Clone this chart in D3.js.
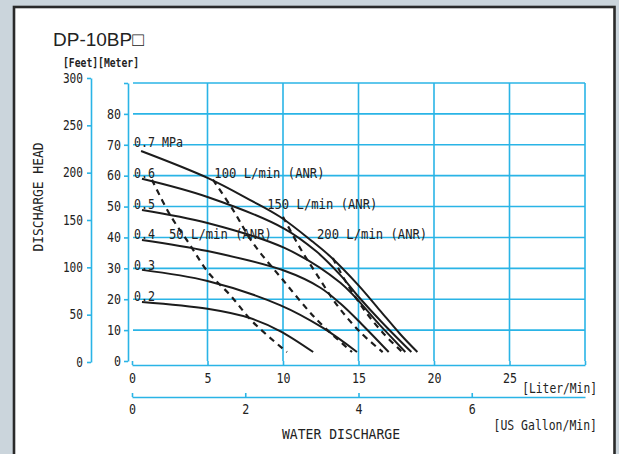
<!DOCTYPE html>
<html>
<head>
<meta charset="utf-8">
<title>DP-10BP</title>
<script src="https://d3js.org/d3.v7.min.js"></script>
<style>
  html, body { margin: 0; padding: 0; background: #cbd5dc; }
  svg { display: block; }
  .lbl { font-family: "DejaVu Sans Mono", monospace; font-size: 13.5px; fill: #222; }
  .grid line { stroke: #2ab4e6; stroke-width: 1.6; }
  .axis path, .axis line { stroke: #2ab4e6; stroke-width: 1.6; }
  .axis text { font-family: "DejaVu Sans Mono", monospace; font-size: 13.5px; fill: #222; }
  .pump { fill: none; stroke: #1c1c1c; stroke-width: 2; }
  .air { fill: none; stroke: #1c1c1c; stroke-width: 2.2; stroke-dasharray: 6,5; }
</style>
</head>
<body>
<svg id="chart" width="619" height="454"></svg>
<script>
// ---- data (flow in L/min, head in m) ----
var meterTicks = [0, 10, 20, 30, 40, 50, 60, 70, 80, 90];
var feetTicks = [0, 50, 100, 150, 200, 250, 300];
var literTicks = [0, 5, 10, 15, 20, 25, 30];
var gallonTicks = [0, 2, 4, 6];

var pressureNames = ["0.7 MPa", "0.6", "0.5", "0.4", "0.3", "0.2"];
var pressureHead = [70, 60, 50, 40, 30, 20];

var curve07 = [[0.6, 68.0], [5.0, 59.3], [7.8, 52.2], [9.8, 46.7], [12.0, 38.5], [13.1, 34.0], [15.0, 24.5], [16.4, 16.5], [17.8, 8.5], [18.9, 2.9]];
var curve06 = [[0.66, 59.0], [5.0, 53.1], [10.1, 42.8], [12.2, 35.5], [13.8, 27.8], [15.0, 20.8], [16.5, 12.8], [18.5, 2.9]];
var curve05 = [[0.66, 48.9], [5.0, 44.7], [10.1, 36.6], [13.8, 25.3], [16.4, 11.7], [18.1, 2.9]];
var curve04 = [[0.66, 39.2], [5.0, 35.6], [10.1, 29.2], [12.45, 23.8], [13.8, 18.6], [15.2, 12.0], [17.0, 2.9]];
var curve03 = [[0.66, 29.5], [5.0, 25.9], [9.8, 18.1], [12.65, 10.7], [14.9, 2.9]];
var curve02 = [[0.66, 19.1], [5.0, 16.9], [7.8, 13.9], [9.8, 9.7], [12.0, 2.9]];
var pumpCurves = [curve07, curve06, curve05, curve04, curve03, curve02];

var airNames = ["50 L/min (ANR)", "100 L/min (ANR)", "150 L/min (ANR)", "200 L/min (ANR)"];
var airLabelFlow = [2.45, 5.45, 8.95, 12.25];
var airLabelHead = [40, 60, 50, 40];
var air50 = [[1.32, 58.7], [2.52, 47.3], [3.84, 37.6], [5.03, 28.8], [6.49, 21.4], [8.01, 12.6], [10.26, 2.9]];
var air100 = [[5.36, 58.7], [6.69, 48.9], [8.01, 38.2], [10.0, 26.2], [12.25, 13.3], [14.57, 2.9]];
var air150 = [[10.0, 46.7], [11.13, 36.6], [12.25, 27.9], [13.58, 18.1], [15.1, 9.4], [16.6, 2.9]];
var air200 = [[13.3, 33.3], [14.24, 25.0], [15.43, 16.2], [16.75, 8.4], [17.9, 2.9]];
var airCurves = [air50, air100, air150, air200];

var gallonMax = 8; // the gallon scale as printed: 8 US gal/min at the 30 L/min end

// ---- drawing ----
var svg = d3.select("#chart");

function squeeze(sel, w) {
  sel.attr("textLength", function () { return this.textContent.length * w; })
     .attr("lengthAdjust", "spacingAndGlyphs");
}

// white panel with dark border
svg.append("rect")
  .attr("x", 14).attr("y", 7)
  .attr("width", 600.5).attr("height", 470)
  .attr("fill", "#fff")
  .attr("stroke", "#2a2a2a")
  .attr("stroke-width", 2.6);

var x = d3.scaleLinear().domain([0, 30]).range([132, 585]);
var y = d3.scaleLinear().domain([0, 90]).range([361, 83]);
var yFt = d3.scaleLinear().domain([0, 300]).range([362, 78]);
var xGal = d3.scaleLinear().domain([0, gallonMax]).range([132, 585]);

// grid
var grid = svg.append("g").attr("class", "grid");
grid.selectAll("line.h").data(meterTicks.slice(1)).enter().append("line")
  .attr("class", "h")
  .attr("x1", x(0) + 1).attr("x2", x(30))
  .attr("y1", function (d) { return y(d); })
  .attr("y2", function (d) { return y(d); });
grid.selectAll("line.v").data(literTicks.slice(1)).enter().append("line")
  .attr("class", "v")
  .attr("x1", function (d) { return x(d); })
  .attr("x2", function (d) { return x(d); })
  .attr("y1", y(90)).attr("y2", y(0));

// axes
var gm = svg.append("g").attr("class", "axis")
  .attr("transform", "translate(128,0)")
  .call(d3.axisLeft(y).tickValues(meterTicks)
    .tickFormat(function (d) { return d === 90 ? "" : d; })
    .tickSize(4).tickSizeOuter(0).tickPadding(3));
gm.selectAll("text").call(squeeze, 7);

var gf = svg.append("g").attr("class", "axis")
  .attr("transform", "translate(91,0)")
  .call(d3.axisLeft(yFt).tickValues(feetTicks)
    .tickSize(4).tickSizeOuter(0).tickPadding(4));
gf.selectAll("text").call(squeeze, 6.7);

var gl = svg.append("g").attr("class", "axis")
  .attr("transform", "translate(0,365)")
  .call(d3.axisBottom(x).tickValues(literTicks)
    .tickFormat(function (d) { return d === 30 ? "" : d; })
    .tickSize(-4).tickSizeOuter(0).tickPadding(8));
gl.selectAll("text").call(squeeze, 7);

var gg = svg.append("g").attr("class", "axis")
  .attr("transform", "translate(0,397)")
  .call(d3.axisBottom(xGal).tickValues(gallonTicks)
    .tickSize(-4).tickSizeOuter(0).tickPadding(7.5));
gg.selectAll("text").call(squeeze, 7);

// curves
var line = d3.line()
  .x(function (d) { return x(d[0]); })
  .y(function (d) { return y(d[1]); })
  .curve(d3.curveCatmullRom.alpha(0.5));

svg.append("g").selectAll("path").data(pumpCurves).enter().append("path")
  .attr("class", "pump").attr("d", line);
svg.append("g").selectAll("path").data(airCurves).enter().append("path")
  .attr("class", "air").attr("d", line);

// curve labels
svg.append("g").selectAll("text").data(pressureNames).enter().append("text")
  .attr("class", "lbl")
  .attr("x", x(0) + 2)
  .attr("y", function (d, i) { return y(pressureHead[i]) + 2; })
  .text(function (d) { return d; })
  .call(squeeze, 7);

svg.append("g").selectAll("text").data(airNames).enter().append("text")
  .attr("class", "lbl")
  .attr("x", function (d, i) { return x(airLabelFlow[i]); })
  .attr("y", function (d, i) { return y(airLabelHead[i]) + 2; })
  .text(function (d) { return d; })
  .call(squeeze, 7.35);

// titles
svg.append("text")
  .attr("x", 53).attr("y", 46)
  .attr("font-family", "Liberation Sans, Arial, sans-serif")
  .attr("font-size", 19).attr("fill", "#222")
  .text("DP-10BP\u25A1");

svg.append("text").attr("class", "lbl")
  .attr("x", 63).attr("y", 67)
  .attr("font-weight", "bold").style("font-size", "13px")
  .attr("textLength", 76).attr("lengthAdjust", "spacingAndGlyphs")
  .text("[Feet][Meter]");

svg.append("text").attr("class", "lbl")
  .attr("transform", "translate(43,197) rotate(-90)")
  .attr("text-anchor", "middle")
  .attr("textLength", 109).attr("lengthAdjust", "spacingAndGlyphs")
  .text("DISCHARGE  HEAD");

svg.append("text").attr("class", "lbl")
  .attr("x", 341).attr("y", 439)
  .attr("text-anchor", "middle")
  .attr("textLength", 118).attr("lengthAdjust", "spacingAndGlyphs")
  .text("WATER  DISCHARGE");

svg.append("text").attr("class", "lbl")
  .attr("x", 597).attr("y", 393)
  .attr("text-anchor", "end")
  .text("[Liter/Min]")
  .call(squeeze, 6.8);

svg.append("text").attr("class", "lbl")
  .attr("x", 597).attr("y", 430)
  .attr("text-anchor", "end")
  .text("[US Gallon/Min]")
  .call(squeeze, 6.9);
</script>
</body>
</html>
